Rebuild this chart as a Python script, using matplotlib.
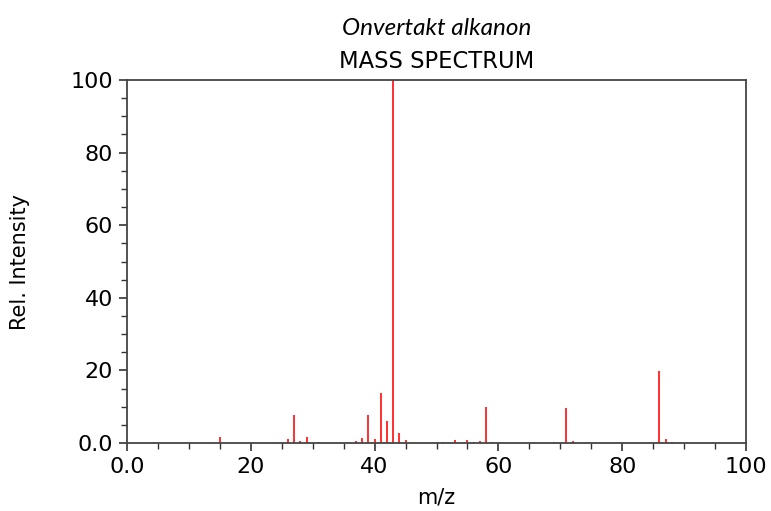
import numpy as np
import matplotlib.pyplot as plt
from matplotlib.ticker import MultipleLocator

mz = [15, 26, 27, 28, 29, 31, 37, 38, 39, 40, 41, 42, 43, 44, 45,
      50, 51, 53, 55, 56, 57, 58, 59, 61, 62, 63, 67, 68, 69, 71, 72, 86, 87, 88]
intensity = [1.7, 1.2, 7.6, 0.5, 1.6, 0.2, 0.6, 1.3, 7.6, 1.0, 13.8, 6.0, 100, 2.8, 0.7,
             0.3, 0.3, 0.7, 0.8, 0.2, 0.6, 9.8, 0.3, 0.1, 0.1, 0.1, 0.1, 0.1, 0.2, 9.7, 0.6, 19.7, 1.2, 0.2]

ticks = [0, 20, 40, 60, 80, 100]
tick_labels = ["0.0", "20", "40", "60", "80", "100"]

title = "Onvertakt alkanon"
subtitle = "MASS SPECTRUM"

fig = plt.figure(figsize=(7.71, 5.11), dpi=100)
ax = fig.add_axes([0.1647, 0.1331, 0.8029, 0.7103])

ax.vlines(mz, 0, intensity, colors="#ff2020", linewidth=1.3)  # pieken

ax.set_xlim(0, 100)
ax.set_ylim(0, 100)
ax.set_xticks(ticks, tick_labels)
ax.set_yticks(ticks, tick_labels)
ax.xaxis.set_minor_locator(MultipleLocator(5))
ax.yaxis.set_minor_locator(MultipleLocator(5))

for s in ax.spines.values():
    s.set_color("#444444")
    s.set_linewidth(1.3)
ax.tick_params(which="major", length=6, width=1.2, color="#333333", labelsize=16, pad=4)
ax.tick_params(which="minor", length=4, width=1.0, color="#333333")

ax.set_xlabel("m/z", fontsize=15, labelpad=8)
ax.set_ylabel("Rel. Intensity", fontsize=15, labelpad=29)

fig.text(0.566, 0.945, title, ha="center", va="center", fontsize=17.5,
         family="Lato", style="italic")
fig.text(0.566, 0.88, subtitle, ha="center", va="center", fontsize=16.3)

fig.savefig("out.png", dpi=100)
